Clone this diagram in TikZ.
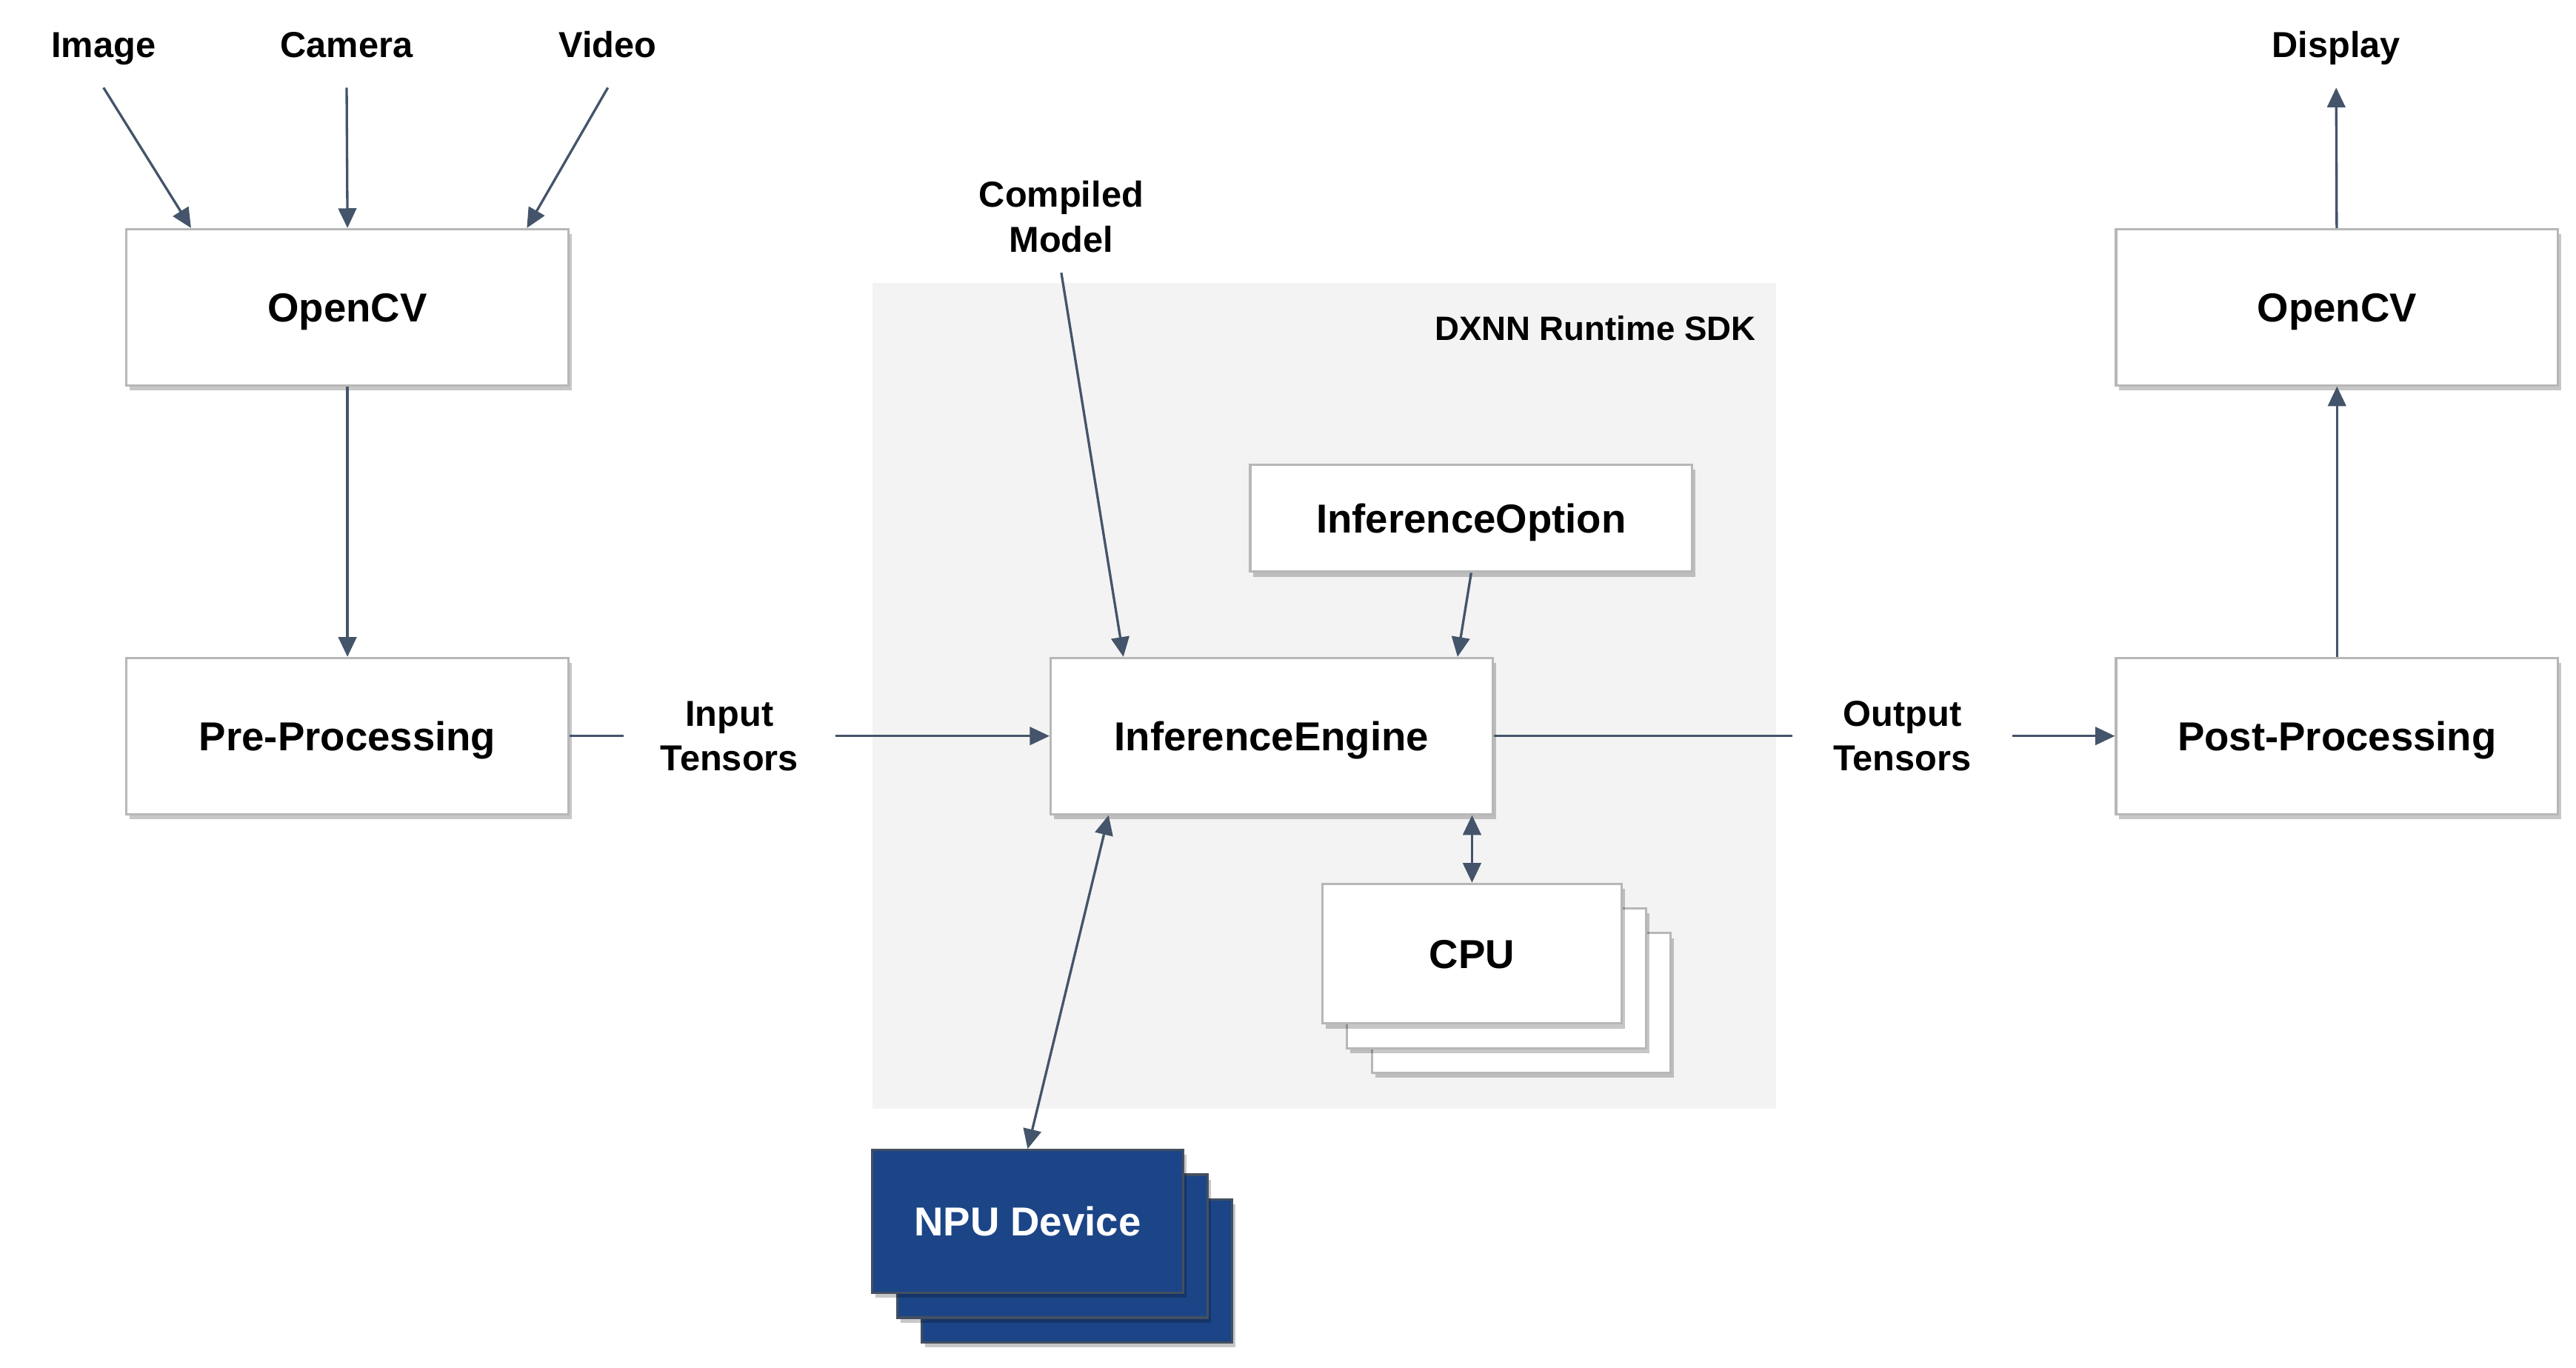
\documentclass[tikz,border=0pt]{standalone}
\usepackage{fontspec}
\setmainfont{Liberation Sans}
\usetikzlibrary{calc,shadows,arrows.meta}
\definecolor{linecol}{HTML}{44546A}
\definecolor{boxline}{HTML}{B7B7B7}
\definecolor{sdkgray}{HTML}{F3F3F3}
\definecolor{npublue}{HTML}{1C4587}
\definecolor{npuline}{HTML}{434F61}
\tikzset{
  box/.style={draw=boxline, line width=0.8pt, fill=white, minimum width=5.38cm, minimum height=1.9cm,
    text height=0.355cm, text depth=0cm,
    font=\fontsize{14}{17}\selectfont\bfseries,
    drop shadow={shadow xshift=0.04cm, shadow yshift=-0.06cm, fill=black, opacity=0.22}},
  npubox/.style={box, draw=npuline, fill=npublue, text=white, minimum width=3.78cm, minimum height=1.74cm},
  lbl/.style={inner xsep=0.3cm, inner ysep=0.26cm, text height=0.32cm, text depth=0.1cm, anchor=base,
    font=\fontsize{12.5}{15.5}\selectfont\bfseries},
  twolbl/.style={align=center, font=\fontsize{12.5}{15.5}\selectfont\bfseries},
  arr/.style={draw=linecol, line width=0.85pt, -{Triangle[length=0.24cm, width=0.22cm]}},
  darr/.style={draw=linecol, line width=0.85pt, {Triangle[length=0.24cm, width=0.22cm]}-{Triangle[length=0.24cm, width=0.22cm]}},
  plainline/.style={draw=linecol, line width=0.85pt}
}

\begin{document}
\begin{tikzpicture}
		%%%%% START %%%%%
		\useasboundingbox (0,0) rectangle (31.36,16.645);
		
		\fill[sdkgray] (10.62,3.145) rectangle (21.62,13.205);
		\node[anchor=east, inner sep=0pt, font=\fontsize{11.7}{14}\selectfont\bfseries] (sdk) at (21.38,12.645) {DXNN Runtime SDK};
		
		\node[lbl] (img) at (1.26,15.945) {Image};
		\node[lbl] (cam) at (4.22,15.945) {Camera};
		\node[lbl] (vid) at (7.4,15.945) {Video};
		\node[lbl] (disp) at (28.44,15.945) {Display};
		\node[twolbl, inner sep=0.24cm] (model) at (12.92,14.005) {Compiled\\Model};
		
		\node[box] (cvin) at (4.23,12.905) {OpenCV};
		\node[box] (pre) at (4.23,7.685) {Pre-Processing};
		\node[box] (eng) at (15.48,7.685) {InferenceEngine};
		\node[box, minimum height=1.3cm] (opt) at (17.91,10.335) {InferenceOption};
		\node[box] (post) at (28.45,7.685) {Post-Processing};
		\node[box] (cvout) at (28.45,12.905) {OpenCV};
		
		\node[twolbl, minimum width=2.56cm, inner sep=0pt] (intens) at (8.88,7.685) {Input\\Tensors};
		\node[twolbl, minimum width=2.66cm, inner sep=0pt] (outtens) at (23.16,7.685) {Output\\Tensors};
		
		\node[box, minimum width=3.64cm, minimum height=1.7cm] (cpuc) at (18.52,4.435) {};
		\node[box, minimum width=3.64cm, minimum height=1.7cm] (cpub) at (18.22,4.735) {};
		\node[box, minimum width=3.64cm, minimum height=1.7cm] (cpu) at (17.92,5.035) {CPU};
		
		\node[npubox] (npuc) at (13.11,1.175) {};
		\node[npubox] (npub) at (12.81,1.475) {};
		\node[npubox] (npu) at (12.51,1.775) {NPU Device};
		
		\draw[arr] (img.south) -- ($(cvin.north west)+(0.8,0)$);
		\draw[arr] (cam.south) -- (cvin.north);
		\draw[arr] (vid.south) -- ($(cvin.north east)+(-0.52,0)$);
		\draw[arr] (cvin) -- (pre);
		
		\draw[plainline] (pre) -- (intens);
		\draw[arr] (intens) -- (eng);
		\draw[arr] (model.south) -- ($(eng.north west)+(0.9,0)$);
		\draw[arr] (opt.south) -- ($(eng.north east)+(-0.44,0)$);
		\draw[darr] (cpu.north) -- (cpu.north |- eng.south);
		\draw[darr] (npu.north) -- ($(eng.south west)+(0.72,0)$);
		
		\draw[plainline] (eng) -- (outtens);
		\draw[arr] (outtens) -- (post);
		\draw[arr] (post) -- (cvout);
		\draw[arr] (cvout) -- (disp.south);
		
		%%%%% END %%%%%
	\end{tikzpicture}
\end{document}
